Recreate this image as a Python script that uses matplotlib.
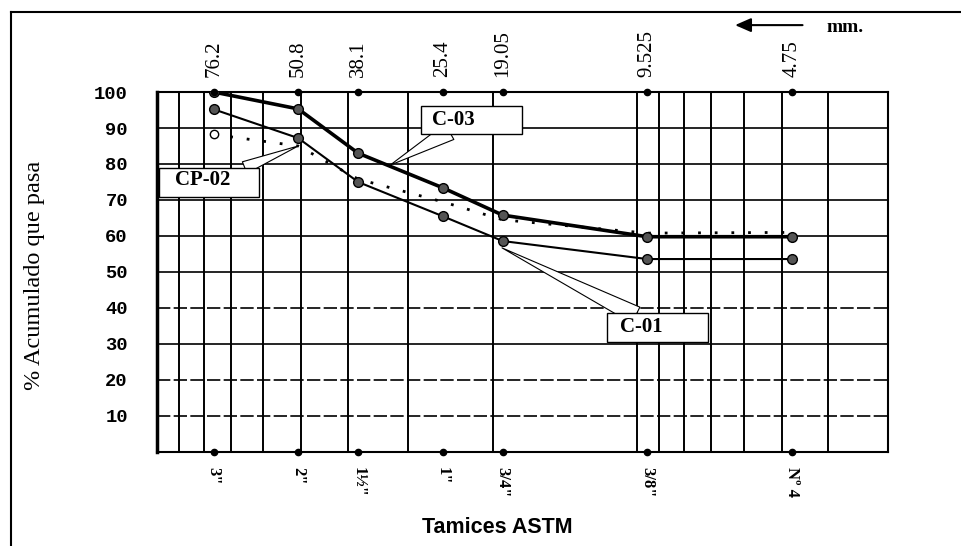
import numpy as np
import matplotlib
matplotlib.use('Agg')
import matplotlib.pyplot as plt
from matplotlib.lines import Line2D
from matplotlib.patches import Rectangle

# tamices: abertura en mm y designacion ASTM
sieve_mm = [76.2, 50.8, 38.1, 25.4, 19.05, 9.525, 4.75]
sieve_mm_labels = ['76.2', '50.8', '38.1', '25.4', '19.05', '9.525', '4.75']
sieve_astm = ['3"', '2"', '1½"', '1"', '3/4"', '3/8"', 'Nº 4']

# % acumulado que pasa
c03 = [100, 95.3, 83.0, 73.4, 65.8, 59.8, 59.8]
c01 = [95.2, 87.2, 75.0, 65.5, 58.6, 53.6, 53.6]
cp02 = [88.2, 85.0, 75.8, 69.5, 64.5, 60.8, 61.0]

grid_x = [90, 80, 70, 60, 50, 40, 30, 20, 10, 9, 8, 7, 6, 5, 4]
grid_y = [10, 20, 30, 40, 50, 60, 70, 80, 90]
dashed_y = [10, 20, 40]
y_ticks = [10, 20, 30, 40, 50, 60, 70, 80, 90, 100]

serif = 'Liberation Serif'

fig = plt.figure(figsize=(9.61, 5.46), dpi=100)
ax = fig.add_axes([157/961, 94/546, 731/961, 360/546])
ax.set_xscale('log')
ax.set_xlim(100, 3)
ax.set_ylim(0, 100)

for gx in grid_x:
    ax.axvline(gx, color='black', lw=1.4, zorder=1)
for gy in grid_y:
    ls = (0, (8, 2)) if gy in dashed_y else '-'
    ax.axhline(gy, color='black', lw=1.2, ls=ls, zorder=1)
for s in ax.spines.values():
    s.set_linewidth(1.5)
ax.spines['left'].set_linewidth(2.5)

# puntos de referencia sobre los bordes
ax.plot(sieve_mm, [100]*len(sieve_mm), 'o', color='black', ms=4.5, clip_on=False, zorder=5)
ax.plot(sieve_mm, [0]*len(sieve_mm), 'o', color='black', ms=4.5, clip_on=False, zorder=5)

# curvas
ax.plot(sieve_mm, c03, '-', color='black', lw=2.6, marker='o', ms=7,
        mfc='#555555', mec='black', zorder=4)
ax.plot(sieve_mm, c01, '-', color='black', lw=1.5, marker='o', ms=7,
        mfc='#555555', mec='black', zorder=4)
ax.plot(sieve_mm, cp02, color='black', lw=2, ls=(0, (1, 5)), marker='o', ms=6,
        mfc='white', mec='black', markevery=[0], zorder=3)

# ejes
ax.set_xticks(sieve_mm)
ax.set_xticklabels(sieve_astm, rotation=270, fontfamily=serif, fontweight='bold', fontsize=12)
ax.xaxis.set_minor_locator(matplotlib.ticker.NullLocator())
ax.set_yticks(y_ticks)
ax.set_yticklabels([str(v) for v in y_ticks], fontfamily='Liberation Mono',
                   fontweight='bold', fontsize=13.5)
ax.tick_params(axis='both', length=0)
ax.tick_params(axis='x', pad=11)
ax.tick_params(axis='y', pad=21)

top = ax.secondary_xaxis('top')
top.set_xticks(sieve_mm)
top.set_xticklabels(sieve_mm_labels, rotation=90, fontfamily=serif, fontsize=15)
top.xaxis.set_minor_locator(matplotlib.ticker.NullLocator())
top.tick_params(length=0, pad=11)
top.spines['top'].set_visible(False)

# etiquetas de curvas
def callout(text, box, text_xy, tail, target, target_coords='axes fraction', tw=1.0):
    ax.annotate('', xy=target, xycoords=target_coords, xytext=tail, textcoords='axes fraction',
                arrowprops=dict(arrowstyle=f'wedge,tail_width={tw},shrink_factor=0.5',
                                fc='white', ec='black', lw=0.8, shrinkA=0, shrinkB=0),
                zorder=6, annotation_clip=False)
    ax.add_patch(Rectangle((box[0], box[1]), box[2], box[3], transform=ax.transAxes,
                           fc='white', ec='black', lw=1.0, zorder=7, clip_on=False))
    ax.text(text_xy[0], text_xy[1], text, transform=ax.transAxes, ha='center', va='center',
            fontfamily=serif, fontweight='bold', fontsize=15, zorder=8)

callout('CP-02', (0.003, 0.708, 0.137, 0.081), (0.063, 0.756), (0.12, 0.79),
        (sieve_mm[1], cp02[1]), target_coords='data', tw=0.9)
callout('C-03', (0.361, 0.883, 0.138, 0.078), (0.405, 0.922), (0.40, 0.89),
        (0.319, 0.797), tw=1.3)
callout('C-01', (0.616, 0.306, 0.138, 0.08), (0.662, 0.347), (0.655, 0.38),
        (0.472, 0.567), tw=1.3)

fig.text(0.518, 0.033, 'Tamices ASTM', ha='center', va='center',
         fontfamily='Liberation Sans', fontweight='bold', fontsize=15.5)
fig.text(0.036, 0.496, '% Acumulado que pasa', ha='center', va='center', rotation=90,
         fontfamily=serif, fontsize=17.5)

# flecha mm.
fig.text(0.879, 0.949, 'mm.', ha='center', va='center', fontfamily=serif,
         fontweight='bold', fontsize=14)
fig.add_artist(matplotlib.patches.FancyArrowPatch((0.838, 0.954), (0.762, 0.954),
               transform=fig.transFigure, arrowstyle='-|>,head_length=0.8,head_width=0.35',
               mutation_scale=12, color='black', lw=1.5))

# marco
fig.add_artist(Line2D([0.0114, 0.0114], [0.0, 0.978], transform=fig.transFigure,
                      color='black', lw=1.5))
fig.add_artist(Line2D([0.0114, 1.0], [0.978, 0.978], transform=fig.transFigure,
                      color='black', lw=1.5))

fig.savefig('out.png', dpi=100)
